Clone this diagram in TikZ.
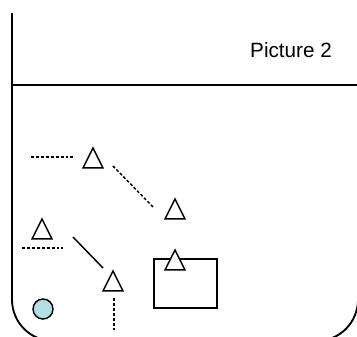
\documentclass[tikz,border=0pt]{standalone}
\usepackage{fontspec}
\setmainfont{Liberation Sans}
\usetikzlibrary{shapes.geometric}

\definecolor{spotblue}{RGB}{176,224,228}

\tikzset{
    frameline/.style={line width=1.4pt},
    tri/.style={draw, fill=white, isosceles triangle, isosceles triangle stretches,
        shape border rotate=90, minimum width=15pt, minimum height=15pt,
        inner sep=0pt, line width=1.1pt, anchor=apex},
    spot/.style={draw, circle, fill=spotblue, minimum size=15pt, inner sep=0pt,
        line width=1.1pt},
    box/.style={draw, rectangle, inner sep=0pt, line width=1.1pt},
    link/.style={line width=1.1pt},
    dotlink/.style={line width=1.1pt, dash pattern=on 2.2pt off 1.5pt}
}

\begin{document}
\begin{tikzpicture}[x=0.75pt, y=-0.75pt]
    \useasboundingbox (0,0) rectangle (357,336);
    \clip (0,0) rectangle (357,336);
    % outline of the sheet
    \draw[frameline, rounded corners=31pt] (12,13) -- (12,341) -- (358,341) -- (358,85);
    \draw[frameline] (12,85) -- (358,85);
    \node[font=\fontsize{15.5}{18}\selectfont, anchor=base] (title) at (291,57.7) {Picture 2};

    % free ends of the lines
    \coordinate (a1) at (31,157);
    \coordinate (a2) at (74,157);
    \coordinate (b1) at (113,166);
    \coordinate (b2) at (154,208);
    \coordinate (c1) at (22,248);
    \coordinate (c2) at (63,248);
    \coordinate (d1) at (73,237);
    \coordinate (d2) at (103,268);
    \coordinate (e1) at (114,298);
    \coordinate (e2) at (114,330);

    \draw[dotlink] (a1) -- (a2);
    \draw[dotlink] (b1) -- (b2);
    \draw[dotlink] (c1) -- (c2);
    \draw[link] (d1) -- (d2);
    \draw[dotlink] (e1) -- (e2);

    \node[box, minimum width=47.25pt, minimum height=36.75pt] (block) at (185.5,283.5) {};
    \node[spot] (ball) at (43,309) {};

    \node[tri] (triA) at (93,146) {};
    \node[tri] (triB) at (175,197) {};
    \node[tri] (triC) at (42,217) {};
    \node[tri] (triD) at (113,269) {};
    \node[tri] (triE) at (175,248) {};
\end{tikzpicture}
\end{document}
